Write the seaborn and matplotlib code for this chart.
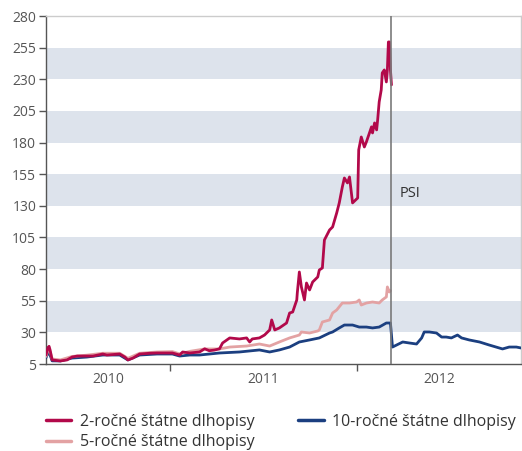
import matplotlib
matplotlib.use("Agg")
import matplotlib.pyplot as plt
import matplotlib.dates as mdates
import matplotlib.ticker as mticker
from matplotlib.lines import Line2D
import pandas as pd
import seaborn as sns

# Greek government bond yields (%), read at irregular dates
dates_2y = [
    "2010-05-04", "2010-05-08", "2010-05-10", "2010-05-12", "2010-05-16", "2010-06-01",
    "2010-06-14", "2010-06-24", "2010-07-04", "2010-07-23", "2010-08-04", "2010-08-23",
    "2010-08-31", "2010-09-25", "2010-10-05", "2010-10-11", "2010-10-21", "2010-11-03",
    "2010-11-23", "2010-12-07", "2010-12-26", "2011-01-06", "2011-01-20", "2011-01-26",
    "2011-02-09", "2011-02-28", "2011-03-10", "2011-03-19", "2011-03-29", "2011-04-08",
    "2011-04-14", "2011-04-28", "2011-05-17", "2011-05-31", "2011-06-06", "2011-06-11",
    "2011-06-25", "2011-07-05", "2011-07-15", "2011-07-19", "2011-07-25", "2011-08-03",
    "2011-08-17", "2011-08-23", "2011-08-29", "2011-09-06", "2011-09-07", "2011-09-11",
    "2011-09-15", "2011-09-21", "2011-09-25", "2011-10-01", "2011-10-07", "2011-10-17",
    "2011-10-20", "2011-10-26", "2011-10-30", "2011-11-09", "2011-11-15", "2011-11-23",
    "2011-11-28", "2011-12-04", "2011-12-08", "2011-12-14", "2011-12-18", "2011-12-24",
    "2012-01-03", "2012-01-05", "2012-01-10", "2012-01-16", "2012-01-20", "2012-01-26",
    "2012-01-30", "2012-02-01", "2012-02-05", "2012-02-09", "2012-02-11", "2012-02-14",
    "2012-02-18", "2012-02-20", "2012-02-24", "2012-02-28", "2012-03-01", "2012-03-03",
    "2012-03-05", "2012-03-07", "2012-03-09",
]
yield_2y = [
    12.1, 18.0, 19.0, 16.1, 8.2, 7.4,
    8.2, 10.5, 11.3, 11.3, 11.3, 12.9,
    12.1, 12.9, 10.5, 8.2, 9.7, 12.9,
    13.5, 13.7, 13.7, 13.7, 12.1, 14.5,
    13.7, 14.5, 17.0, 15.5, 16.0, 17.0,
    21.6, 25.6, 24.8, 25.6, 22.4, 24.8,
    25.6, 27.9, 31.9, 39.8, 31.9, 33.5,
    37.4, 45.3, 46.1, 55.6, 61.1, 77.7,
    65.9, 55.6, 69.0, 63.5, 69.8, 73.8,
    79.3, 80.9, 103.0, 110.9, 113.3, 124.4,
    132.3, 144.9, 152.0, 148.1, 152.8, 132.3,
    136.2, 174.2, 184.4, 176.5, 180.5, 187.6,
    192.4, 187.6, 195.5, 190.0, 197.9, 212.1,
    221.6, 235.0, 237.4, 227.9, 237.4, 259.5,
    259.5, 237.4, 225.6,
]

dates_5y = [
    "2010-05-04", "2010-05-08", "2010-05-12", "2010-05-16", "2010-06-01", "2010-06-24",
    "2010-07-23", "2010-08-23", "2010-09-25", "2010-10-11", "2010-11-03", "2010-12-07",
    "2011-01-06", "2011-01-20", "2011-02-09", "2011-03-10", "2011-04-08", "2011-04-28",
    "2011-05-31", "2011-06-25", "2011-07-15", "2011-08-03", "2011-08-23", "2011-09-11",
    "2011-09-15", "2011-10-01", "2011-10-17", "2011-10-20", "2011-10-26", "2011-11-09",
    "2011-11-15", "2011-11-23", "2011-12-04", "2011-12-18", "2012-01-01", "2012-01-06",
    "2012-01-10", "2012-01-20", "2012-02-01", "2012-02-14", "2012-02-20", "2012-02-28",
    "2012-03-01", "2012-03-05", "2012-03-07",
]
yield_5y = [
    11.0, 16.0, 15.0, 9.0, 8.2, 11.0,
    12.0, 13.5, 13.5, 9.5, 13.5, 14.5,
    14.8, 13.0, 15.0, 16.9, 16.9, 18.4,
    19.2, 20.8, 19.2, 22.4, 25.6, 27.9,
    30.3, 29.5, 31.1, 31.9, 38.2, 39.8,
    45.3, 47.7, 53.2, 53.2, 54.0, 55.6,
    51.6, 53.2, 54.0, 53.2, 55.6, 58.0,
    65.9, 61.9, 63.0,
]

dates_10y = [
    "2010-05-04", "2010-05-08", "2010-05-12", "2010-05-16", "2010-06-01", "2010-06-24",
    "2010-07-23", "2010-08-23", "2010-09-25", "2010-10-11", "2010-11-03", "2010-12-07",
    "2011-01-06", "2011-01-20", "2011-02-09", "2011-02-28", "2011-04-08", "2011-05-17",
    "2011-06-25", "2011-07-15", "2011-08-03", "2011-08-23", "2011-09-11", "2011-10-01",
    "2011-10-20", "2011-11-09", "2011-11-15", "2011-11-28", "2011-12-08", "2011-12-24",
    "2012-01-06", "2012-01-20", "2012-02-01", "2012-02-14", "2012-02-28", "2012-03-07",
    "2012-03-11", "2012-03-19", "2012-03-31", "2012-04-13", "2012-04-27", "2012-05-07",
    "2012-05-12", "2012-05-22", "2012-06-05", "2012-06-15", "2012-06-24", "2012-07-04",
    "2012-07-16", "2012-07-24", "2012-08-08", "2012-08-28", "2012-09-16", "2012-10-12",
    "2012-10-25", "2012-11-08", "2012-11-18",
]
yield_10y = [
    10.0, 14.0, 12.0, 7.5, 7.4, 9.7,
    10.5, 12.1, 12.1, 8.2, 12.1, 12.9,
    12.9, 11.3, 12.1, 12.1, 13.7, 14.5,
    16.1, 14.5, 16.1, 18.4, 22.4, 24.0,
    25.6, 29.5, 30.3, 33.5, 35.8, 35.8,
    34.2, 34.2, 33.5, 34.2, 37.4, 37.4,
    18.4, 20.0, 22.4, 21.6, 20.8, 25.6,
    30.3, 30.3, 29.5, 26.3, 26.3, 25.6,
    27.9, 25.6, 24.0, 22.4, 20.0, 16.9,
    18.4, 18.4, 17.6,
]

series_names = ["2-ročné štátne dlhopisy", "5-ročné štátne dlhopisy", "10-ročné štátne dlhopisy"]
series_colors = ["#b2094a", "#e3a2a3", "#1b3f80"]
year_labels = ["2010", "2011", "2012"]
y_ticks = [5, 30, 55, 80, 105, 130, 155, 180, 205, 230, 255, 280]
band_edges = [(30, 55), (80, 105), (130, 155), (180, 205), (230, 255)]
psi_date = "2012-03-08"
psi_label = "PSI"

frames = []
for name, d, v in zip(series_names, [dates_2y, dates_5y, dates_10y],
                      [yield_2y, yield_5y, yield_10y]):
    frames.append(pd.DataFrame({"date": pd.to_datetime(d), "value": v, "series": name}))
df = pd.concat(frames, ignore_index=True)

sns.set_theme(style="white")
plt.rcParams["font.family"] = ["Open Sans", "DejaVu Sans"]

fig = plt.figure(figsize=(5.22, 4.51), dpi=100)
ax = fig.add_axes([0.0881, 0.1929, 0.9099, 0.7716])

for lo, hi in band_edges:
    ax.axhspan(lo, hi, color="#dde3ec", lw=0, zorder=0)

palette = dict(zip(series_names, series_colors))
sns.lineplot(data=df, x="date", y="value", hue="series",
             hue_order=series_names[::-1], palette=palette,
             lw=2.0, legend=False, ax=ax, zorder=3)

ax.axvline(pd.Timestamp(psi_date), color="#7a7a7a", lw=1.2, zorder=4)
ax.text(pd.Timestamp("2012-03-25"), 140, psi_label, fontsize=10.5,
        color="#333333", va="center", ha="left")

ax.set_xlim(pd.Timestamp("2010-05-04"), pd.Timestamp("2012-11-17"))
ax.set_ylim(5, 280)
ax.set_yticks(y_ticks)
ax.tick_params(axis="y", direction="out", length=5, width=1, color="#555555",
               labelsize=10, labelcolor="#555555", pad=2, left=True)

# Year boundaries as ticks, year names centred on the visible part of each year
ax.xaxis.set_major_locator(mdates.YearLocator())
ax.xaxis.set_major_formatter(mticker.NullFormatter())
minor_pos = [mdates.date2num(pd.Timestamp(s)) for s in ["2010-09-02", "2011-07-02", "2012-06-10"]]
ax.xaxis.set_minor_locator(mticker.FixedLocator(minor_pos))
ax.xaxis.set_minor_formatter(mticker.FixedFormatter(year_labels))
ax.tick_params(axis="x", which="major", direction="out", length=5, width=1,
               color="#555555", bottom=True)
ax.tick_params(axis="x", which="minor", length=0, labelsize=10,
               labelcolor="#555555", pad=6)

ax.set_xlabel("")
ax.set_ylabel("")
for side in ["left", "bottom"]:
    ax.spines[side].set_color("#555555")
    ax.spines[side].set_linewidth(1.0)
for side in ["top", "right"]:
    ax.spines[side].set_color("#cccccc")
    ax.spines[side].set_linewidth(1.0)

handles = [Line2D([0], [0], color=c, lw=2.5) for c in series_colors]
fig.legend(handles, series_names, ncol=2, loc="upper left",
           bbox_to_anchor=(0.088, 0.083), frameon=False, fontsize=11.5,
           handlelength=1.6, handletextpad=0.55, columnspacing=2.7,
           labelspacing=0.3, borderpad=0, borderaxespad=0,
           labelcolor="#333333")

fig.savefig("out.png", dpi=100)
